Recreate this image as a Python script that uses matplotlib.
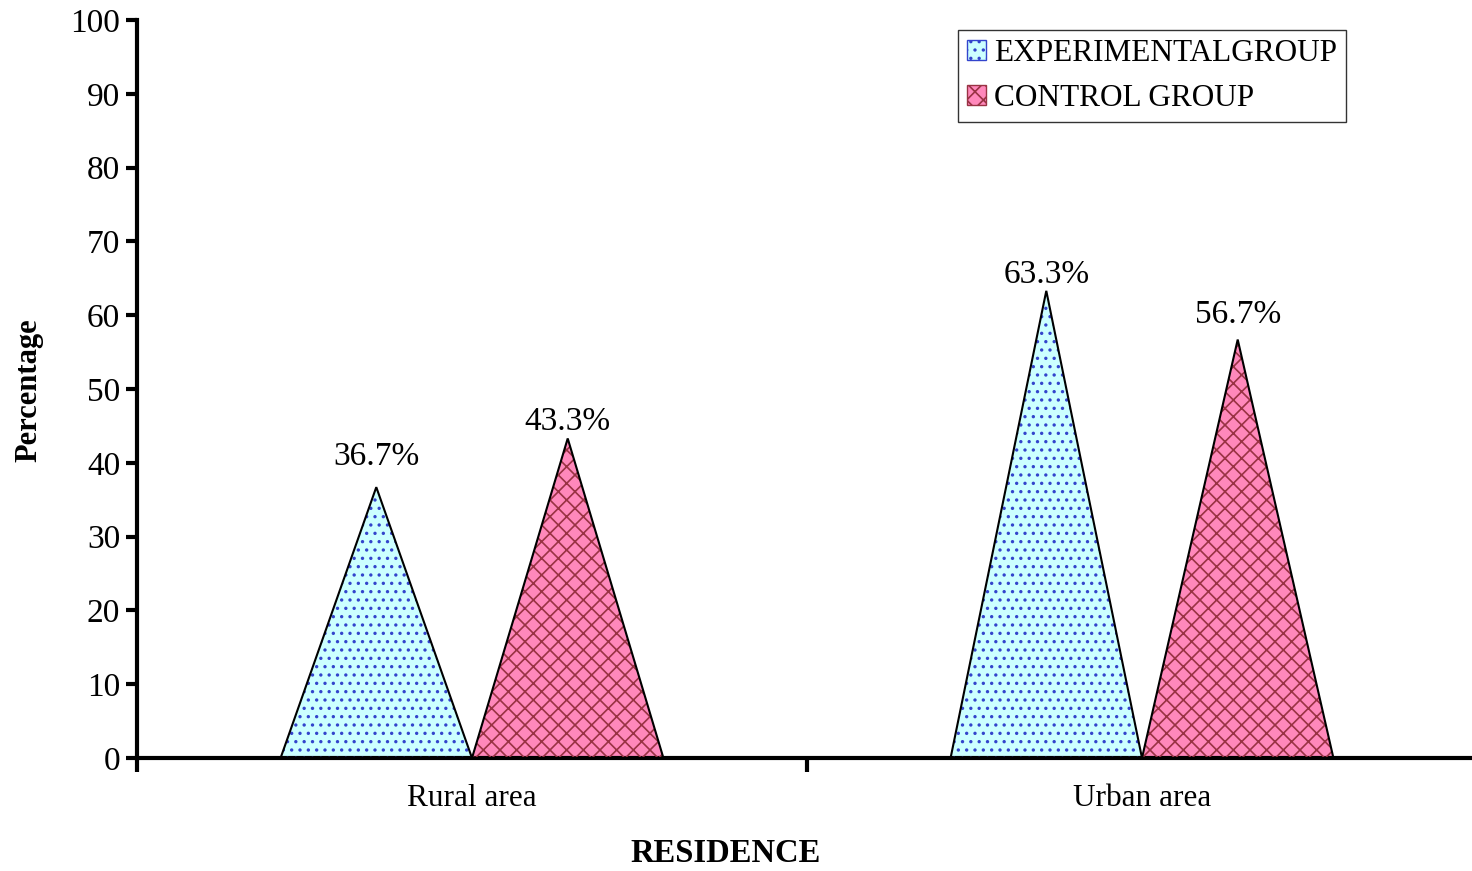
import matplotlib.pyplot as plt
from matplotlib.patches import Patch

categories = ["Rural area", "Urban area"]
experimental = [36.7, 63.3]
control = [43.3, 56.7]
series_names = ["EXPERIMENTALGROUP", "CONTROL GROUP"]

plt.rcParams["font.family"] = ["Liberation Serif", "DejaVu Serif"]
plt.rcParams["hatch.linewidth"] = 1.2

fig = plt.figure(figsize=(14.72, 8.71), dpi=100)
# each category takes 670 px; the axis runs a little past the right edge
ax = fig.add_axes([137 / 1472, 1 - 758 / 871, 1340 / 1472, (758 - 20) / 871])

w = 0.2857
styles = [
    dict(face="#CCFFFF", hatch="..", hc="#3344CC"),
    dict(face="#FF88BB", hatch="xx", hc="#993344"),
]
# label gap above apex (pixels), per category and series, as in the original
label_gaps = [[30, 17], [16, 25]]

for i, cat in enumerate(categories):
    c = i + 0.5
    for j, vals in enumerate([experimental, control]):
        st = styles[j]
        left = c - w if j == 0 else c
        xs = [left, left + w / 2, left + w]
        ys = [0, vals[i], 0]
        ax.fill(xs, ys, facecolor=st["face"], edgecolor="none", zorder=2)
        ax.fill(xs, ys, facecolor="none", edgecolor=st["hc"], hatch=st["hatch"],
                linewidth=0, zorder=3)
        ax.fill(xs, ys, facecolor="none", edgecolor="black", linewidth=1.5, zorder=4)
        ax.annotate(f"{vals[i]:.1f}%", (left + w / 2, vals[i]),
                    xytext=(0, label_gaps[i][j]), textcoords="offset pixels",
                    ha="center", va="center", fontsize=24, annotation_clip=False)

ax.set_xlim(0, 2)
ax.set_ylim(0, 100)
ax.set_yticks(range(0, 101, 10))
ax.set_xticks([0, 1, 2])
ax.set_xticklabels([])
ax.set_xticks([0.5, 1.5], minor=True)
ax.set_xticklabels(categories, minor=True)
ax.tick_params(axis="x", which="minor", length=0, labelsize=22.5, pad=19)
ax.tick_params(axis="x", which="major", length=10, width=3, direction="out")
ax.tick_params(axis="y", length=8, width=3, labelsize=24, pad=4)

for s in ["top", "right"]:
    ax.spines[s].set_visible(False)
for s in ["left", "bottom"]:
    ax.spines[s].set_linewidth(3)

fig.text(726 / 1472, 1 - 853 / 871, "RESIDENCE", fontsize=23.5, fontweight="bold",
         ha="center", va="center")
fig.text(29 / 1472, 1 - 390 / 871, "Percentage", fontsize=22, fontweight="bold",
         ha="center", va="center", rotation=90)

handles = [
    Patch(facecolor=styles[0]["face"], edgecolor=styles[0]["hc"], hatch=styles[0]["hatch"]),
    Patch(facecolor=styles[1]["face"], edgecolor=styles[1]["hc"], hatch=styles[1]["hatch"]),
]
leg = fig.legend(handles, series_names, loc="upper left",
                 bbox_to_anchor=(958 / 1472, 1 - 30 / 871),
                 fontsize=22.5, frameon=True, fancybox=False, handlelength=0.6,
                 handleheight=0.6, handletextpad=0.25, borderpad=0.3, labelspacing=0.5,
                 borderaxespad=0)
leg.get_frame().set_edgecolor("black")
leg.get_frame().set_linewidth(1)

fig.savefig("out.png", dpi=100)
